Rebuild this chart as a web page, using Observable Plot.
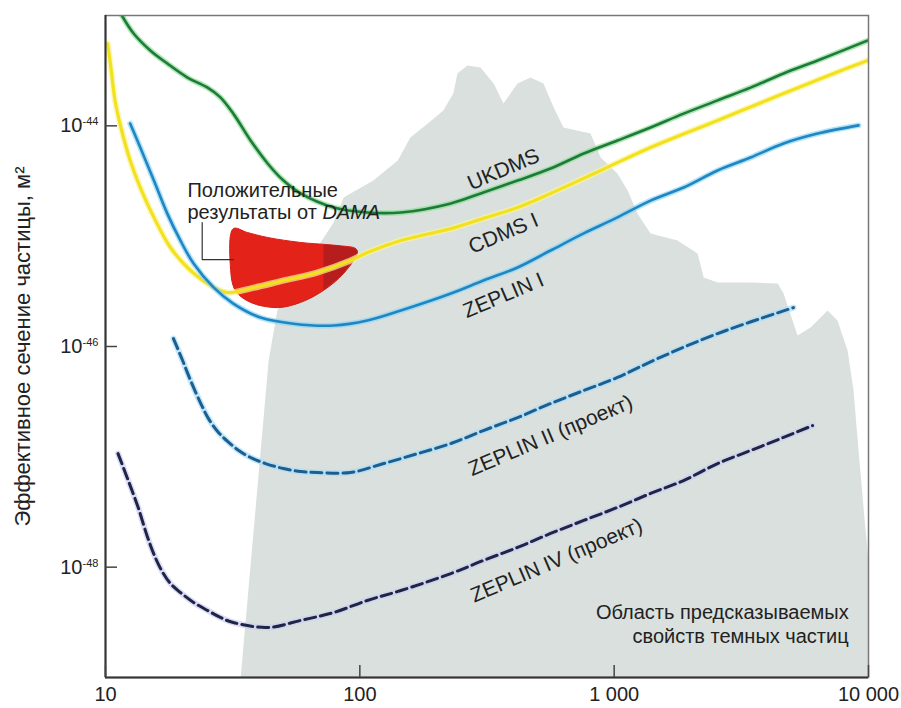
<!DOCTYPE html>
<html><head><meta charset="utf-8">
<script src="https://cdn.jsdelivr.net/npm/d3@7"></script>
<script src="https://cdn.jsdelivr.net/npm/@observablehq/plot@0.6"></script>
<style>
html,body{margin:0;padding:0;background:#fff;}
#chart{width:901px;height:708px;}
</style></head><body><div id="chart"></div>
<script>
// WIMP mass (GeV) vs cross-section (m^2) limit curves
const ukdms = [[11.6,1.0e-43],[12.9,6.87e-44],[15.0,4.82e-44],[17.5,3.67e-44],[21.0,2.74e-44],[25.2,2.22e-44],[28.3,1.81e-44],[31.8,1.29e-44],[37.2,7.36e-45],[43.4,4.56e-45],[50.1,3.19e-45],[58.5,2.44e-45],[78.9,1.82e-45],[107,1.64e-45],[145,1.64e-45],[228,1.98e-45],[306,2.49e-45],[417,3.19e-45],[562,4.10e-45],[759,5.61e-45],[1030,7.36e-45],[1390,9.66e-45],[1875,1.29e-44],[2550,1.70e-44],[3436,2.22e-44],[4634,2.98e-44],[6310,3.91e-44],[9931,5.93e-44]];
const cdms1 = [[10.2,5.57e-44],[10.5,3.38e-44],[10.9,1.70e-44],[11.5,9.66e-45],[12.5,4.85e-45],[13.7,2.76e-45],[15.5,1.48e-45],[18.0,7.89e-46],[21.0,5.20e-46],[25.2,3.72e-46],[30.2,3.08e-46],[37.2,3.36e-46],[50.1,3.96e-46],[68.2,4.69e-46],[91.8,6.01e-46],[107,7.11e-46],[145,9.14e-46],[228,1.17e-45],[306,1.45e-45],[417,1.82e-45],[562,2.44e-45],[885,3.94e-45],[1390,6.37e-45],[2550,1.12e-44],[4634,1.96e-44],[7295,2.98e-44],[9931,3.91e-44]];
const zeplin1 = [[12.5,1.05e-44],[13.7,6.37e-45],[15.5,3.19e-45],[17.5,1.60e-45],[19.7,9.14e-46],[22.2,5.65e-46],[26.6,3.43e-46],[31.8,2.45e-46],[40.7,1.83e-46],[54.8,1.61e-46],[78.9,1.55e-46],[107,1.72e-46],[145,2.12e-46],[228,3.02e-46],[306,3.96e-46],[417,5.20e-46],[562,7.41e-46],[759,1.06e-45],[1030,1.48e-45],[1390,2.10e-45],[1875,2.76e-45],[2550,3.94e-45],[3436,5.16e-45],[4634,6.92e-45],[6310,8.51e-45],[9140,1.01e-44]];
const zeplin2 = [[18.5,1.18e-46],[20.1,7.46e-47],[21.6,4.92e-47],[23.7,3.04e-47],[25.4,2.22e-47],[27.6,1.70e-47],[30.2,1.38e-47],[33.4,1.14e-47],[37.2,9.86e-48],[42.6,8.69e-48],[50.1,7.83e-48],[58.5,7.36e-48],[68.2,7.21e-48],[91.8,7.21e-48],[124,8.69e-48],[169,1.07e-47],[228,1.32e-47],[306,1.73e-47],[417,2.27e-47],[562,3.04e-47],[759,3.99e-47],[1030,5.24e-47],[1483,7.78e-47],[2550,1.31e-46],[5070,2.25e-46]];
const zeplin4 = [[11.2,1.07e-47],[12.2,6.37e-48],[13.4,3.55e-48],[14.6,1.90e-48],[15.7,1.22e-48],[16.8,8.95e-49],[18.0,7.11e-49],[19.7,5.89e-49],[22.2,4.79e-49],[25.2,4.05e-49],[28.3,3.50e-49],[31.8,3.15e-49],[43.4,2.84e-49],[58.5,3.29e-49],[78.9,3.88e-49],[107,4.99e-49],[145,6.14e-49],[228,8.75e-49],[306,1.15e-48],[417,1.51e-48],[562,2.02e-48],[759,2.65e-48],[1030,3.48e-48],[1390,4.66e-48],[1875,6.10e-48],[2550,8.69e-48],[3436,1.14e-47],[4634,1.50e-47],[6026,1.92e-47]];
// DAMA positive-result region (outline) and its darker right part
const dama = [[31.8,1.17e-45],[31.0,5.20e-46],[32.4,3.22e-46],[37.2,2.51e-46],[47.4,2.25e-46],[58.5,2.51e-46],[71.9,3.22e-46],[86.3,4.59e-46],[97.9,7.11e-46],[96.2,7.73e-46],[81.7,8.22e-46],[58.5,8.77e-46],[43.4,9.73e-46],[36.1,1.08e-45]];
const damaDark = [[71.9,8.40e-46],[81.7,8.22e-46],[96.2,7.73e-46],[97.9,7.11e-46],[86.3,4.59e-46],[71.9,3.22e-46]];
// Predicted dark-matter region (outline)
const predicted = [[34.0,1e-49],[43.8,7.46e-47],[47.4,2.12e-46],[61.1,5.42e-46],[78.9,1.33e-45],[86.3,2.24e-45],[113,3.19e-45],[141,4.85e-45],[158,7.83e-45],[185,1.05e-44],[213,1.38e-44],[233,1.96e-44],[242,2.98e-44],[265,3.52e-44],[298,3.38e-44],[336,2.42e-44],[367,1.59e-44],[417,2.42e-44],[469,2.74e-44],[527,2.42e-44],[578,1.47e-44],[632,9.66e-45],[807,8.51e-45],[885,5.16e-45],[1030,3.70e-45],[1130,2.59e-45],[1236,1.60e-45],[1390,1.06e-45],[1774,9.14e-46],[2128,6.97e-46],[2249,4.22e-46],[2550,3.80e-46],[3436,3.80e-46],[4395,3.72e-46],[4634,3.02e-46],[5260,1.26e-46],[5916,1.49e-46],[6902,2.12e-46],[7551,1.72e-46],[8279,9.20e-47],[8730,3.99e-47],[9140,1.14e-47],[9660,2.65e-48],[10000,1.15e-48],[10000,1e-49]];
// Leader line for the DAMA note
const damaLeader = [[24.0,1.33e-45],[24.0,6.14e-46],[31.8,6.14e-46]];
// Ticks
const xTicks = [10, 100, 1000, 10000];
const xTickLabels = ["10", "100", "1 000", "10 000"];
const yTicks = [1e-44, 1e-46, 1e-48];
const yTickExponents = ["-44", "-46", "-48"];
// Curve labels
const curveLabelText = ["UKDMS", "CDMS I", "ZEPLIN I", "ZEPLIN II (проект)", "ZEPLIN IV (проект)"];
const curveLabelMass = [367, 367, 367, 562, 593];
const curveLabelSigma = [4.02e-45, 1.06e-45, 2.90e-46, 1.56e-47, 1.15e-48];
const damaNote = ["Положительные", "результаты от DAMA"];
const damaNoteMass = [21.0, 21.0];
const damaNoteSigma = [2.59e-45, 1.64e-45];
const regionNote = ["Область предсказываемых", "свойств темных частиц"];
const regionNoteMass = [8356, 8356];
const regionNoteSigma = [3.88e-49, 2.35e-49];
const yTitle = "Эффективное сечение частицы, м²";

const W = 901, H = 708, ML = 105, MR = 33, MT = 15, MB = 31;
const PW = W - ML - MR, PH = H - MT - MB;
const FONT = "Liberation Sans, Arial, sans-serif";
const X = d => d[0], Y = d => d[1];

function curve(data, core, halo, width, dash) {
  return [
    Plot.line(data, {x: X, y: Y, stroke: halo, strokeWidth: width + 3, strokeOpacity: 0.7, curve: "catmull-rom", clip: true}),
    Plot.line(data, {x: X, y: Y, stroke: core, strokeWidth: width, strokeDasharray: dash, curve: "catmull-rom", clip: true})
  ];
}

const chart = Plot.plot({
  width: W, height: H,
  marginLeft: ML, marginRight: MR, marginTop: MT, marginBottom: MB,
  style: {fontFamily: FONT, fontSize: "19px", background: "white", color: "#222"},
  x: {type: "log", domain: [10, 10000], axis: null},
  y: {type: "log", domain: [1e-49, 1e-43], axis: null},
  marks: [
    Plot.line(predicted, {x: X, y: Y, fill: "#d9e0dd", stroke: "none"}),
    Plot.line(dama, {x: X, y: Y, fill: "#e3231a", stroke: "#d81e16", strokeWidth: 1, curve: "catmull-rom-closed"}),
    Plot.line(damaDark, {x: X, y: Y, fill: "#b81d1d", stroke: "none", curve: "linear"}),
    Plot.line(damaLeader, {x: X, y: Y, stroke: "#333", strokeWidth: 1.2}),
    ...curve(ukdms, "#1d7b3a", "#8fdc95", 2.6),
    ...curve(cdms1, "#f2e21e", "#fbf3a0", 3.2),
    ...curve(zeplin1, "#1f86c2", "#8fd6f6", 2.6),
    ...curve(zeplin2, "#1c5e90", "#a9ddf6", 3, "11,5"),
    ...curve(zeplin4, "#1f2547", "#cdcdf0", 3, "11,5"),
    Plot.text(curveLabelText, {x: (d, i) => curveLabelMass[i], y: (d, i) => curveLabelSigma[i], text: d => d, rotate: -23, fontSize: 21, fill: "#222"}),
    Plot.text(damaNote, {x: (d, i) => damaNoteMass[i], y: (d, i) => damaNoteSigma[i], text: d => d, textAnchor: "start", fontSize: 20, fill: "#222"}),
    Plot.text(regionNote, {x: (d, i) => regionNoteMass[i], y: (d, i) => regionNoteSigma[i], text: d => d, textAnchor: "end", fontSize: 20, fill: "#222"}),
    // frame
    Plot.frame({stroke: "#777", strokeWidth: 1.5}),
    Plot.ruleX([10], {stroke: "#333", strokeWidth: 2}),
    Plot.ruleY([1e-49], {stroke: "#333", strokeWidth: 2}),
    // ticks
    Plot.tickX(xTicks, {x: d => d, insetTop: PH - 12, stroke: "#444", strokeWidth: 1.5}),
    Plot.tickY(yTicks, {y: d => d, insetRight: PW - 12, stroke: "#444", strokeWidth: 1.5}),
    Plot.text(xTicks, {x: d => d, frameAnchor: "bottom", dy: 23, text: (d, i) => xTickLabels[i], fontSize: 20, fill: "#222"}),
    Plot.text(yTicks, {y: d => d, frameAnchor: "left", dx: -23, textAnchor: "end", text: () => "10", fontSize: 20, fill: "#222"}),
    Plot.text(yTicks, {y: d => d, frameAnchor: "left", dx: -23, dy: -4, textAnchor: "start", text: (d, i) => yTickExponents[i], fontSize: 11, fill: "#222"}),
    Plot.text([yTitle], {frameAnchor: "left", dx: -83, rotate: -90, textAnchor: "middle", text: d => d, fontSize: 22, fill: "#222"})
  ]
});
document.getElementById("chart").appendChild(chart);
// italic DAMA
chart.querySelectorAll("text").forEach(t => {
  if (t.textContent === "результаты от DAMA") {
    t.textContent = "результаты от ";
    const ts = document.createElementNS("http://www.w3.org/2000/svg", "tspan");
    ts.setAttribute("font-style", "italic");
    ts.textContent = "DAMA";
    t.appendChild(ts);
  }
});
</script></body></html>
